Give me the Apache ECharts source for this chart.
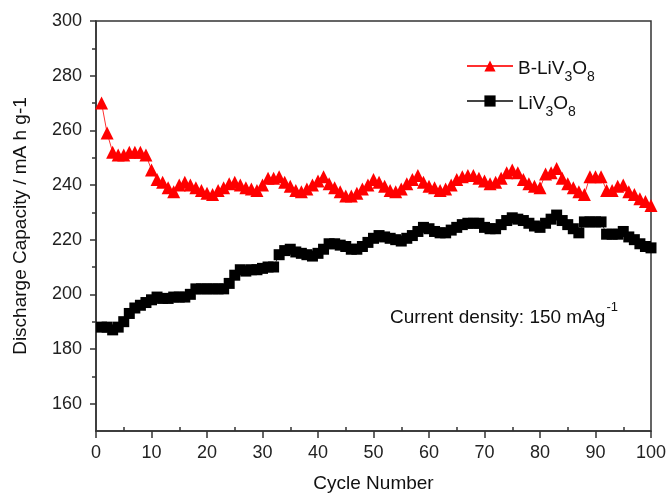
<!DOCTYPE html>
<html>
<head>
<meta charset="utf-8">
<script src="https://cdn.jsdelivr.net/npm/echarts@6/dist/echarts.min.js"></script>
<style>html,body{margin:0;padding:0;background:#fff;}#c{width:670px;height:498px;}</style>
</head>
<body>
<div id="c"></div>
<script>
const cycles = Array.from({length: 100}, (_, i) => i + 1);
const bLiV3O8 = [270,259,252,251,251,252,252,252,251,245.5,
  242,241,239,237.5,240,241,240,239,238,237,
  236.5,238,239,240.5,241,240,239,238.5,238,240,
  242.5,242.5,243,241,239.5,238,237.5,238.5,240,241.5,
  243,240.5,239,237.5,236,236,237,238.5,240,242,
  241,239.5,238,237.5,238.5,240.5,242,243.5,241,239.5,
  239,238,238.5,240,242,243,243.5,243.5,242.5,241.5,
  240.5,241,242.5,244.5,245.5,244.5,242,240.5,239.5,239,
  244,244.5,246,242.5,240.5,239,237.5,236.5,243,243,
  243,238,238,239.5,240,237.5,236.5,235,234,232.5];
const liV3O8 = [188,188,187,188,190,193,195,196,197,198,
  199,198.5,198.5,199,199,199,200,202,202,202,
  202,202,202,204,207,209,208.5,209,209,209.5,
  210,210,214.5,216,216.5,215.5,215,214.5,214,215,
  216.5,218.5,218.5,218,217.5,216.5,216.5,217.5,219,220.5,
  221.5,221,220.5,220,219.5,220.5,221.5,223,224.5,224,
  223,222.5,222.5,223.5,224.5,225.5,226,226,226,224.5,
  224,224,225.5,227,228,227.5,227,226,225,224.5,
  226,227.5,229,227,225.5,224,222.5,226.5,226.5,226.5,
  226.5,222,222,222,223,221,220,218.5,217.5,217];
const yMajor = [160,180,200,220,240,260,280,300];
const yMinor = [170,190,210,230,250,270,290];
const xMinor = [5,15,25,35,45,55,65,75,85,95];
const seriesNames = ['B-LiV3O8', 'LiV3O8'];

const chart = echarts.init(document.getElementById('c'));
const FONT = 'Liberation Sans';
const AX = '#333';
function legendFmt(name) {
  if (name === 'B-LiV3O8') return '{n|B-LiV}{s|3}{n|O}{s|8}';
  return '{n|LiV}{s|3}{n|O}{s|8}';
}
chart.setOption({
  animation: false,
  grid: {left: 96, right: 19, top: 21, bottom: 66, show: true, borderColor: AX, borderWidth: 1.5, backgroundColor: 'transparent'},
  xAxis: [{
    type: 'value', min: 0, max: 100, interval: 10,
    name: 'Cycle Number', nameLocation: 'middle', nameGap: 43,
    nameTextStyle: {fontFamily: FONT, fontSize: 19, color: '#111'},
    axisLine: {show: true, onZero: false, lineStyle: {color: AX, width: 1.5}},
    axisTick: {show: true, length: 7, lineStyle: {color: AX, width: 1.5}},
    axisLabel: {fontFamily: FONT, fontSize: 18, color: '#222', margin: 13},
    splitLine: {show: false}
  }, {
    type: 'value', min: 0, max: 100, position: 'bottom',
    axisLine: {show: false},
    axisTick: {show: true, inside: true, length: 4, customValues: xMinor, lineStyle: {color: AX, width: 1.5}},
    axisLabel: {show: false},
    splitLine: {show: false}
  }],
  yAxis: [{
    type: 'value', min: 150, max: 300,
    name: 'Discharge Capacity / mA h g-1', nameLocation: 'middle', nameGap: 66,
    nameTextStyle: {fontFamily: FONT, fontSize: 19, color: '#111'},
    axisLine: {show: true, onZero: false, lineStyle: {color: AX, width: 1.5}},
    axisTick: {show: true, length: 6, customValues: yMajor, lineStyle: {color: AX, width: 1.5}},
    axisLabel: {fontFamily: FONT, fontSize: 18, color: '#222', margin: 14, customValues: yMajor},
    splitLine: {show: false}
  }, {
    type: 'value', min: 150, max: 300, position: 'left',
    axisLine: {show: false},
    axisTick: {show: true, length: 4, customValues: yMinor, lineStyle: {color: AX, width: 1.5}},
    axisLabel: {show: false},
    splitLine: {show: false}
  }],
  legend: {
    orient: 'vertical', left: 461, top: 54, itemWidth: 46, itemHeight: 14, itemGap: 10,
    data: seriesNames,
    formatter: legendFmt,
    textStyle: {
      fontFamily: FONT, color: '#111',
      rich: {
        n: {fontFamily: FONT, fontSize: 19, color: '#111', lineHeight: 24, verticalAlign: 'bottom'},
        s: {fontFamily: FONT, fontSize: 14, color: '#111', lineHeight: 24, verticalAlign: 'bottom', padding: [0, 0, -6, 0]}
      }
    }
  },
  graphic: [{
    type: 'text', left: 390, top: 301,
    style: {
      rich: {
        n: {fontFamily: FONT, fontSize: 19, fill: '#111', lineHeight: 26, verticalAlign: 'bottom'},
        p: {fontFamily: FONT, fontSize: 13, fill: '#111', lineHeight: 26, verticalAlign: 'top', padding: [0, 0, 12, 1]}
      },
      text: '{n|Current density: 150 mAg}{p|-1}'
    }
  }],
  series: [{
    name: seriesNames[0], type: 'line',
    data: cycles.map((c, i) => [c, bLiV3O8[i]]),
    symbol: 'triangle', symbolSize: 13,
    itemStyle: {color: '#ff0000'},
    lineStyle: {color: '#ff3030', width: 1},
    z: 3
  }, {
    name: seriesNames[1], type: 'line',
    data: cycles.map((c, i) => [c, liV3O8[i]]),
    symbol: 'rect', symbolSize: 11,
    itemStyle: {color: '#000'},
    lineStyle: {color: '#444', width: 1},
    z: 2
  }]
});
</script>
</body>
</html>
